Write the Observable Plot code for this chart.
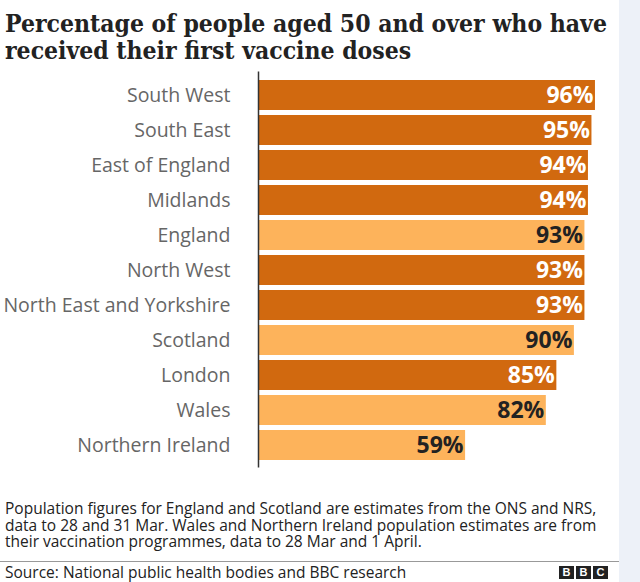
<!DOCTYPE html>
<html><head><meta charset="utf-8">
<script src="https://cdn.jsdelivr.net/npm/d3@7"></script>
<script src="https://cdn.jsdelivr.net/npm/@observablehq/plot@0.6"></script>
<style>
html,body{margin:0;padding:0;background:#fff;}
#page{position:relative;width:640px;height:582px;overflow:hidden;background:#fff;font-family:"Open Sans",sans-serif;}
#strip{position:absolute;left:619px;top:0;width:21px;height:582px;background:#edf1f8;}
.tl{position:absolute;left:5px;font-family:"DejaVu Serif Condensed","DejaVu Serif",serif;font-size:24.5px;line-height:27px;height:27px;color:#222;font-weight:bold;white-space:nowrap;}
#chart{position:absolute;left:0;top:57px;}
#chart svg{display:block;}
.nl{position:absolute;left:5px;font-size:15.5px;line-height:16.5px;height:16.5px;color:#222;white-space:nowrap;}
#rule{position:absolute;left:0;top:561px;width:619px;height:1px;background:#999;}
#source{position:absolute;left:5px;top:562px;font-size:15.5px;line-height:20px;color:#222;white-space:nowrap;}
#bbc{position:absolute;left:559px;top:566px;display:flex;gap:2px;}
#bbc span{display:block;width:15px;height:13px;background:#222;color:#fff;font:bold 11px/13px "Liberation Sans",sans-serif;text-align:center;}
</style></head>
<body>
<div id="page">
<div id="strip"></div>
<div class="tl" style="top:10px">Percentage of people aged 50 and over who have</div>
<div class="tl" style="top:37px">received their first vaccine doses</div>
<div id="chart"></div>
<div class="nl" style="top:500px">Population figures for England and Scotland are estimates from the ONS and NRS,</div>
<div class="nl" style="top:516.5px">data to 28 and 31 Mar. Wales and Northern Ireland population estimates are from</div>
<div class="nl" style="top:533px">their vaccination programmes, data to 28 Mar and 1 April.</div>
<div id="rule"></div>
<div id="source">Source: National public health bodies and BBC research</div>
<div id="bbc"><span>B</span><span>B</span><span>C</span></div>
</div>
<script>
const regions = ["South West","South East","East of England","Midlands","England","North West","North East and Yorkshire","Scotland","London","Wales","Northern Ireland"];
const values = [96,95,94,94,93,93,93,90,85,82,59];
const kinds = ["region","region","region","region","nation","region","region","nation","region","nation","nation"];

const data = regions.map((r,i)=>({region:r, value:values[i], kind:kinds[i]}));
const dark = "#d1690f", light = "#fdb35b";

const chart = Plot.plot({
  width: 640,
  height: 420,
  marginTop: 14.5,
  marginBottom: 9.5,
  marginLeft: 258,
  marginRight: 31,
  x: {domain:[0,100], axis:null},
  y: {domain: regions, padding: 0.155, label:null},
  style: {background:"transparent"},
  marks: [
    Plot.barX(data, {x:"value", y:"region", fill:d=>d.kind==="nation"?light:dark}),
    Plot.ruleX([0], {stroke:"#333", strokeWidth:1.5}),
    Plot.axisY({tickSize:0, tickPadding:28, fontSize:19.5, fill:"#666", fontFamily:"Open Sans", label:null}),
    Plot.text(data, {x:"value", y:"region", text:d=>d.value+"%", textAnchor:"end", dx:-2, fontSize:23, fontWeight:"bold", fontFamily:"Open Sans", fill:d=>d.kind==="nation"?"#222":"#fff"})
  ]
});
document.getElementById("chart").appendChild(chart);
</script>
</body></html>
